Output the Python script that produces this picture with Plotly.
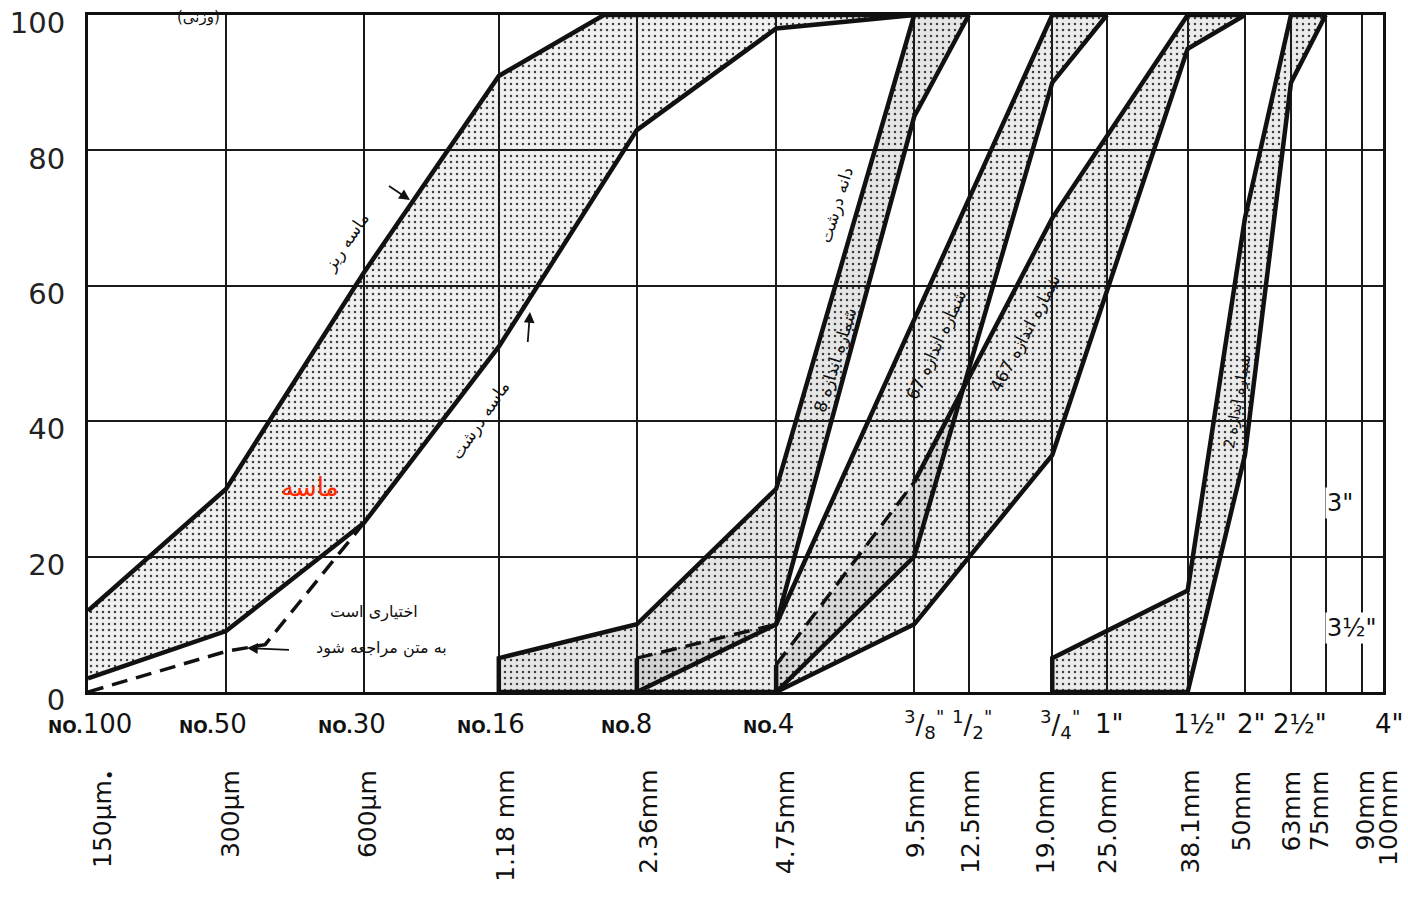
import numpy as np
import plotly.graph_objects as go

# ---------------- data ----------------
sieve_mm = [0.15, 0.3, 0.6, 1.18, 2.36, 4.75, 9.5, 12.5, 19, 25, 37.5, 50, 63, 75, 90, 100]
metric_labels = ["150μm<sub>•</sub>", "300μm", "600μm", "1.18 mm", "2.36mm", "4.75mm", "9.5mm",
                 "12.5mm", "19.0mm", "25.0mm", "38.1mm", "50mm", "63mm", "75mm", "90mm", "100mm"]
us_sieve_mm = [0.15, 0.3, 0.6, 1.18, 2.36, 4.75, 9.5, 12.5, 19, 25, 37.5, 50, 63, 100]
us_numbers = ["100", "50", "30", "16", "8", "4"]
inch_labels = ['<sup>3</sup>/<sub>8</sub><sup>"</sup>', '<sup>1</sup>/<sub>2</sub><sup>"</sup>',
               '<sup>3</sup>/<sub>4</sub><sup>"</sup>', '1"', '1½"', '2"', '2½"', '4"']

# fine aggregate (sand) limits, % passing
sand_upper_mm = [0.15, 0.3, 0.6, 1.18, 2.0, 9.5]
sand_upper = [12, 30, 62, 91, 100, 100]
sand_lower_mm = [0.15, 0.3, 0.6, 1.18, 2.36, 4.75, 9.5]
sand_lower = [2, 9, 25, 51, 83, 98, 100]
sand_optional_mm = [0.15, 0.3, 0.365, 0.6]
sand_optional = [0, 6, 7, 25]

# coarse aggregate size No. 8
s8_mm = [1.18, 2.36, 4.75, 9.5, 12.5]
s8_upper = [5, 10, 30, 100, 100]
s8_lower = [0, 0, 10, 85, 100]

# size No. 67
s67_mm = [2.36, 4.75, 9.5, 19, 25]
s67_upper = [5, 10, 55, 100, 100]
s67_lower = [0, 0, 20, 90, 100]

# size No. 467
s467_mm = [4.75, 9.5, 19, 37.5, 50]
s467_upper = [4, 31, 70, 100, 100]
s467_lower = [0, 10, 35, 95, 100]

# size No. 2
s2_mm = [19, 37.5, 50, 63, 75]
s2_upper = [5, 15, 70, 100, 100]
s2_lower = [0, 0, 35, 90, 100]

# ---------------- layout helpers ----------------
W, H = 1408, 905
L, R, T, B = 88, 1383, 15, 692
X0, X1 = np.log10(0.15), np.log10(100)


def ax_x(px):
    return X0 + (px - L) / (R - L) * (X1 - X0)


def ax_y(py):
    return (B - py) / (B - T) * 100


FONT = "DejaVu Sans"
INK = "#111111"

fig = go.Figure()

pattern = dict(shape=".", size=6, solidity=0.14, fgcolor="#222222", fgopacity=0.85, fillmode="overlay")


def band(xu, yu, xl, yl, fill):
    fig.add_trace(go.Scatter(
        x=list(xu) + list(xl)[::-1], y=list(yu) + list(yl)[::-1],
        mode="lines", fill="toself", line=dict(width=0),
        fillcolor=fill, fillpattern=pattern, hoverinfo="skip", showlegend=False))


def line(x, y, dash="solid", width=4.5):
    fig.add_trace(go.Scatter(x=list(x), y=list(y), mode="lines",
                             line=dict(color=INK, width=width, dash=dash),
                             hoverinfo="skip", showlegend=False))


band(sand_upper_mm, sand_upper, sand_lower_mm, sand_lower, "rgba(0,0,0,0.06)")
band(s8_mm, s8_upper, s8_mm, s8_lower, "rgba(0,0,0,0.10)")
band(s67_mm, s67_upper, s67_mm, s67_lower, "rgba(0,0,0,0.08)")
band(s467_mm, s467_upper, s467_mm, s467_lower, "rgba(0,0,0,0.08)")
band(s2_mm, s2_upper, s2_mm, s2_lower, "rgba(0,0,0,0.08)")

# boundary lines
line(sand_upper_mm, sand_upper)
line(sand_lower_mm, sand_lower)
line(sand_optional_mm, sand_optional, dash="16px,9px", width=3.5)

line([s8_mm[0]] + s8_mm, [s8_lower[0]] + s8_upper)
line(s8_mm, s8_lower)

line([s67_mm[0], s67_mm[0]], [s67_lower[0], s67_upper[0]])
line(s67_mm[:2], s67_upper[:2], dash="16px,9px", width=3.5)
line(s67_mm[1:], s67_upper[1:])
line(s67_mm, s67_lower)

line([s467_mm[0], s467_mm[0]], [s467_lower[0], s467_upper[0]])
line(s467_mm[:2], s467_upper[:2], dash="16px,9px", width=3.5)
line(s467_mm[1:], s467_upper[1:])
line(s467_mm, s467_lower)

line([s2_mm[0]] + s2_mm, [s2_lower[0]] + s2_upper)
line(s2_mm, s2_lower)

ann = []

# x-axis first row: US sieve numbers / inch sizes
row1_text = ["<span style='font-size:17px'><b>NO.</b></span>" + n for n in us_numbers] + inch_labels
row1_shift = [2, -13, -12, -8, -10, -8, 10, 3, 8, 3, 12, 7, 9, 6]
for s, t, dx in zip(us_sieve_mm, row1_text, row1_shift):
    ann.append(dict(x=np.log10(s), y=0, xref="x", yref="paper", text=t, showarrow=False,
                    xanchor="center", yanchor="middle", xshift=dx, yshift=-(724 - B),
                    font=dict(family=FONT, size=26, color=INK)))

# x-axis second row: metric sizes, rotated
row2_shift = [16, 4, 3, 6, 11, 9, 1, 1, -7, 0, 2, -3, 1, -6, 3, 5]
for s, t, dx in zip(sieve_mm, metric_labels, row2_shift):
    ann.append(dict(x=np.log10(s), y=0, xref="x", yref="paper", text=t, showarrow=False,
                    textangle=-90, xanchor="center", yanchor="top", xshift=dx,
                    yshift=-(768 - B), font=dict(family=FONT, size=25, color=INK)))

# inch labels inside plot for 3" and 3 1/2"
for px, py, t in [(1340, 503, '3"'), (1352, 628, '3½"')]:
    ann.append(dict(x=ax_x(px), y=ax_y(py), xref="x", yref="y", text=t, showarrow=False,
                    bgcolor="white", font=dict(family=FONT, size=24, color=INK)))


def txt(px, py, t, angle=0, size=17, color=INK):
    ann.append(dict(x=ax_x(px), y=ax_y(py), xref="x", yref="y", text=t, showarrow=False,
                    textangle=angle, font=dict(family=FONT, size=size, color=color)))


def arrow(hx, hy, tx, ty):
    ann.append(dict(x=ax_x(hx), y=ax_y(hy), xref="x", yref="y", text=" ", showarrow=True,
                    ax=tx - hx, ay=ty - hy, arrowhead=2, arrowsize=1.2, arrowwidth=1.8,
                    arrowcolor=INK))


txt(310, 487, "ماسه", 0, 26, "#ff2a00")
txt(346, 242, "ماسه ریز", -56, 17)
arrow(410, 200, 386, 184)
txt(480, 420, "ماسه درشت", -56, 17)
arrow(530, 312, 527, 352)
txt(374, 612, "اختیاری است", 0, 16)
txt(381, 648, "به متن مراجعه شود", 0, 16)
arrow(247, 648, 292, 650)
txt(836, 205, "دانه درشت", -73, 17)
txt(835, 360, "شماره اندازه 8", -73, 17)
txt(936, 345, "شماره اندازه 67", -65, 17)
txt(1025, 333, "شماره اندازه 467", -62, 17)
txt(1237, 402, "شماره اندازه 2", -80, 15)
ann.append(dict(x=95 / W, y=1 - 3 / H, xref="paper", yref="paper", text="(وزنی)", showarrow=False,
                font=dict(family=FONT, size=15, color=INK), yanchor="middle"))

fig.update_layout(
    width=W, height=H, autosize=False,
    margin=dict(l=L, r=W - R, t=T, b=H - B),
    paper_bgcolor="white", plot_bgcolor="white",
    showlegend=False, hovermode=False,
    annotations=ann,
    xaxis=dict(type="log", range=[X0, X1], tickvals=sieve_mm, showticklabels=False,
               showgrid=True, gridcolor="#1a1a1a", gridwidth=1.5, ticks="", automargin=False,
               showline=True, linewidth=3, linecolor=INK, mirror=True, zeroline=False),
    yaxis=dict(range=[0, 100], tickvals=[0, 20, 40, 60, 80, 100], showgrid=True,
               gridcolor="#1a1a1a", gridwidth=1.5, ticks="", ticklabelstandoff=14,
               ticklabeloverflow="allow", ticklabelshift=8, automargin=False,
               tickfont=dict(family=FONT, size=29, color="#222"),
               showline=True, linewidth=3, linecolor=INK, mirror=True, zeroline=False),
)

fig.write_html("out.html", config={"displayModeBar": False},
               post_script="document.body.style.margin='0';")
